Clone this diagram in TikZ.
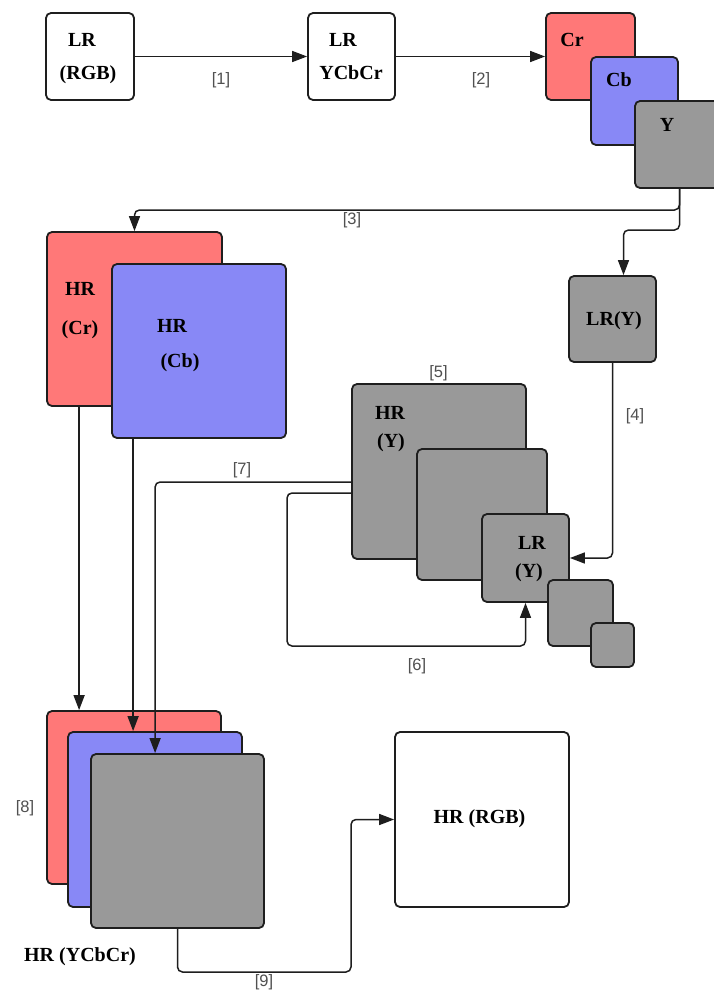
\documentclass[tikz,border=0pt]{standalone}
\usepackage{fontspec}
\setmainfont{Liberation Serif}
\newfontfamily\lsans{Liberation Sans}
\usetikzlibrary{arrows.meta}
\definecolor{cred}{RGB}{255,120,120}
\definecolor{cblue}{RGB}{136,136,246}
\definecolor{cgray}{RGB}{153,153,153}
\definecolor{cline}{RGB}{30,30,30}
\definecolor{clab}{RGB}{80,80,80}
\tikzset{
  box/.style={draw=cline, line width=1.8pt, rounded corners=5pt, inner sep=0pt, fill=white},
  redbox/.style={box, fill=cred},
  bluebox/.style={box, fill=cblue},
  graybox/.style={box, fill=cgray},
  txt/.style={inner sep=0pt, anchor=base, font=\bfseries\fontsize{20}{22}\selectfont, text=black},
  lab/.style={inner sep=0pt, font=\lsans\fontsize{16.5}{18}\selectfont, text=clab},
  arr/.style={-{Triangle[length=15pt,width=11pt]}, line width=1.5pt, draw=cline, rounded corners=5pt}
}
\begin{document}
\begin{tikzpicture}[x=1pt,y=-1pt]
\clip (0,0) rectangle (714,990);
\fill[white] (0,0) rectangle (714,990);
% top row
\node[box, minimum width=88pt, minimum height=87pt] (lrrgb) at (90,56.5) {};
\node[box, minimum width=87pt, minimum height=87pt] (lrycc) at (351.5,56.5) {};
\node[redbox, minimum width=89pt, minimum height=87pt] (cr) at (590.5,56.5) {};
\node[bluebox, minimum width=87pt, minimum height=88pt] (cb) at (634.5,101) {};
\node[graybox, minimum width=89pt, minimum height=87pt] (ybox) at (679.5,144.5) {};
\node[txt] (t1a) at (82,47) {LR};
\node[txt] (t1b) at (88,80) {(RGB)};
\node[txt] (t2a) at (343,47) {LR};
\node[txt] (t2b) at (351,80) {YCbCr};
\node[txt] (t3) at (572,47) {Cr};
\node[txt] (t4) at (619,86) {Cb};
\node[txt] (t5) at (667,131.5) {Y};
% HR Cr / Cb
\node[redbox, minimum width=175pt, minimum height=174pt] (hrcr) at (134.5,319) {};
\node[bluebox, minimum width=174pt, minimum height=174pt] (hrcb) at (199,351) {};
\node[txt] (t6a) at (80,295) {HR};
\node[txt] (t6b) at (80,334) {(Cr)};
\node[txt] (t7a) at (172,332) {HR};
\node[txt] (t7b) at (180,367) {(Cb)};
% LR(Y)
\node[graybox, minimum width=87pt, minimum height=86pt] (lry) at (612.5,319) {};
\node[txt] (t8) at (614,325) {LR(Y)};
% Y pyramid
\node[graybox, minimum width=174pt, minimum height=175pt] (hry) at (439,471.5) {};
\node[graybox, minimum width=130pt, minimum height=131pt] (hry2) at (482,514.5) {};
\node[graybox, minimum width=87pt, minimum height=88pt] (lrys) at (525.5,558) {};
\node[graybox, minimum width=65pt, minimum height=66pt] (s4) at (580.5,613) {};
\node[graybox, minimum width=43pt, minimum height=44pt] (s5) at (612.5,645) {};
\node[txt] (t9a) at (390,419) {HR};
\node[txt] (t9b) at (391,447) {(Y)};
\node[txt] (t10a) at (532,549) {LR};
\node[txt] (t10b) at (529,577) {(Y)};
% bottom stack
\node[redbox, minimum width=174pt, minimum height=173pt] (bcr) at (134,797.5) {};
\node[bluebox, minimum width=174pt, minimum height=175pt] (bcb) at (155,819.5) {};
\node[graybox, minimum width=173pt, minimum height=174pt] (bgy) at (177.5,841) {};
\node[txt] (t11) at (80,961) {HR (YCbCr)};
% HR RGB
\node[box, minimum width=174pt, minimum height=175pt] (hrrgb) at (482,819.5) {};
\node[txt] (t12) at (479.5,823) {HR (RGB)};
% coordinates
\coordinate (j3) at (679.5,210);
\coordinate (j4) at (679.5,230);
\coordinate (c6) at (287,646);
\coordinate (c9) at (351,972);
% connectors
\draw[arr] (lrrgb.east) -- (lrycc.west);
\draw[arr] (lrycc.east) -- (cr.west);
\draw[arr] (ybox.south) -- (j3) -| (hrcr.north);
\draw[arr] (ybox.south) -- (j4) -| ([xshift=11pt]lry.north);
\draw[arr] (lry.south) |- (lrys.east);
\draw[arr] ([yshift=-21.5pt]hry.west) -| (c6) -| (lrys.south);
\draw[arr] ([yshift=-10.5pt]hry.west) -| ([xshift=65pt]bgy.north west);
\draw[arr] ([xshift=33pt]hrcr.south west) -- ([xshift=33pt]bcr.north west);
\draw[arr] ([xshift=22pt]hrcb.south west) -- ([xshift=66pt]bcb.north west);
\draw[arr] (bgy.south) |- (c9) |- (hrrgb.west);
% labels
\node[lab] (l1) at (221,80) {[1]};
\node[lab] (l2) at (481,80) {[2]};
\node[lab] (l3) at (352,220) {[3]};
\node[lab] (l4) at (635,416) {[4]};
\node[lab] (l5) at (438.5,373) {[5]};
\node[lab] (l6) at (417,666) {[6]};
\node[lab] (l7) at (242,470) {[7]};
\node[lab] (l8) at (25,808) {[8]};
\node[lab] (l9) at (264,982) {[9]};
\end{tikzpicture}
\end{document}
